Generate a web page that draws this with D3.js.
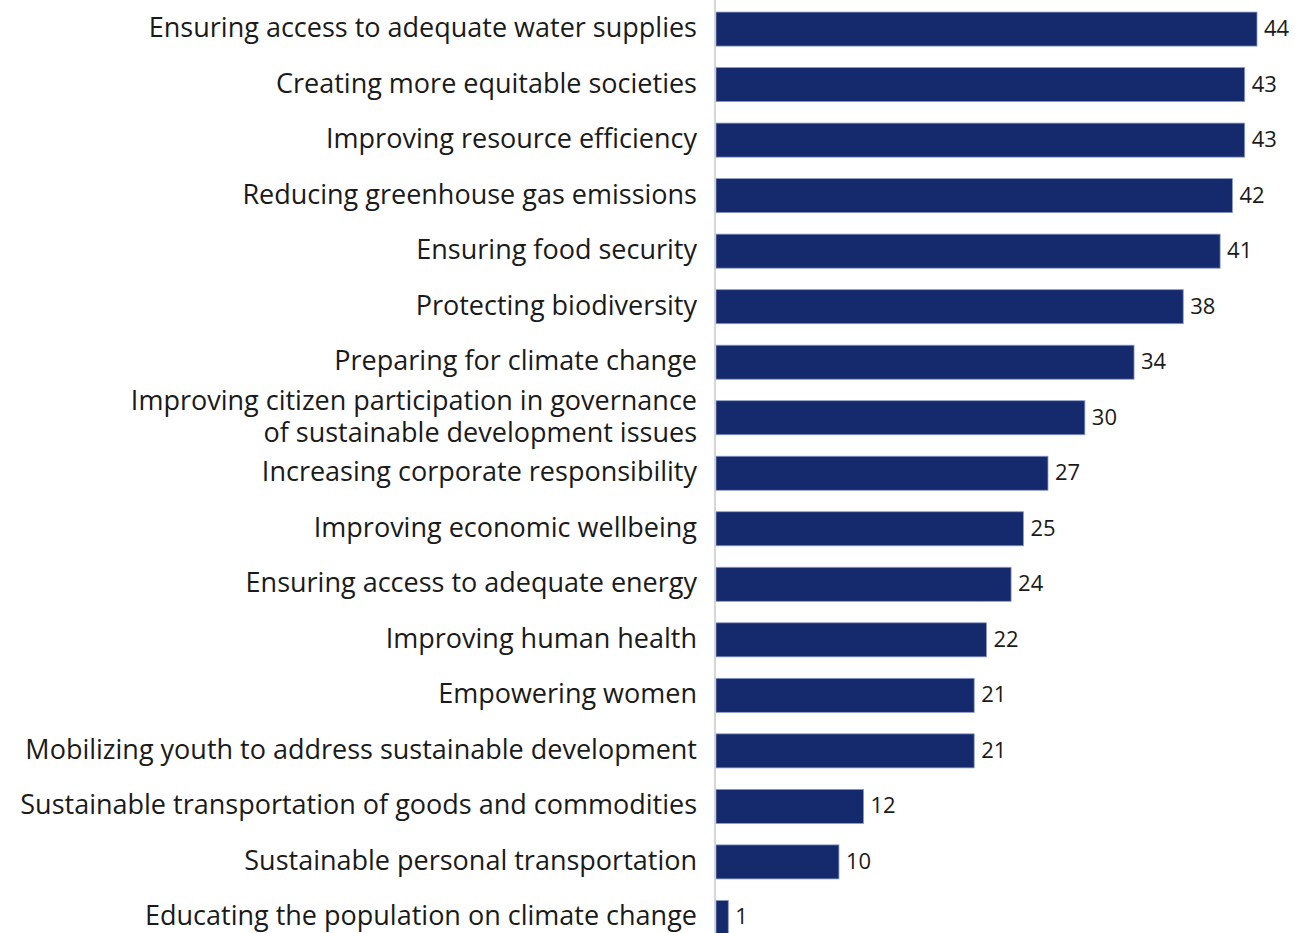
<!DOCTYPE html>
<html>
<head>
<meta charset="utf-8">
<script src="https://cdn.jsdelivr.net/npm/d3@7"></script>
<style>
  html, body { margin: 0; padding: 0; background: #fff; }
  svg { display: block; }
</style>
</head>
<body>
<svg id="chart" width="1295" height="933"></svg>
<script>
const categories = [
  "Ensuring access to adequate water supplies",
  "Creating more equitable societies",
  "Improving resource efficiency",
  "Reducing greenhouse gas emissions",
  "Ensuring food security",
  "Protecting biodiversity",
  "Preparing for climate change",
  "Improving citizen participation in governance|of sustainable development issues",
  "Increasing corporate responsibility",
  "Improving economic wellbeing",
  "Ensuring access to adequate energy",
  "Improving human health",
  "Empowering women",
  "Mobilizing youth to address sustainable development",
  "Sustainable transportation of goods and commodities",
  "Sustainable personal transportation",
  "Educating the population on climate change"
];
const values = [44, 43, 43, 42, 41, 38, 34, 30, 27, 25, 24, 22, 21, 21, 12, 10, 1];

const W = 1295, H = 933;
const x0 = 716;
const svg = d3.select("#chart");
const fontFamily = "'Open Sans', 'Noto Sans', sans-serif";

const x = d3.scaleLinear().domain([0, 44]).range([x0, 1257]);
const y = d3.scaleBand()
  .domain(d3.range(categories.length))
  .range([1.5, 1.5 + 55.5 * categories.length])
  .paddingInner(0.387)
  .paddingOuter(0.19);

// bars
svg.append("g").selectAll("rect")
  .data(values)
  .join("rect")
  .attr("x", x(0))
  .attr("y", (d, i) => y(i))
  .attr("width", d => x(d) - x(0))
  .attr("height", y.bandwidth())
  .attr("fill", "#15296d")
  .attr("stroke", "#8a9ac8")
  .attr("stroke-width", 0.8);

// axis line
svg.append("line")
  .attr("x1", 715).attr("x2", 715)
  .attr("y1", 0).attr("y2", H)
  .attr("stroke", "#c8c8cc")
  .attr("stroke-width", 1.5);

// category labels
const labelG = svg.append("g")
  .attr("font-family", fontFamily)
  .attr("fill", "#1a1a1a")
  .attr("text-anchor", "end");

const labels = labelG.selectAll("text")
  .data(categories)
  .join("text")
  .attr("x", 697)
  .attr("y", (d, i) => y(i) + y.bandwidth() / 2 - 3)
  .attr("dominant-baseline", "central");

labels.each(function(d) {
  const lines = d.split("|");
  const t = d3.select(this);
  lines.forEach((ln, k) => {
    t.append("tspan")
      .attr("x", 697)
      .attr("dy", k === 0 ? (-(lines.length - 1) * 16) : 32)
      .text(ln);
  });
});

// fit font size so longest label spans about 677px
labelG.attr("font-size", 26);
let longest = 0;
labels.selectAll("tspan").each(function() { longest = Math.max(longest, this.getComputedTextLength()); });
const fs = 26 * 677 / longest;
labelG.attr("font-size", fs);

// value labels
svg.append("g").selectAll("text")
  .data(values)
  .join("text")
  .attr("x", d => x(d) + 7)
  .attr("y", (d, i) => y(i) + y.bandwidth() / 2 - 2)
  .attr("dominant-baseline", "central")
  .attr("font-family", fontFamily)
  .attr("font-size", 22)
  .attr("fill", "#1a1a1a")
  .text(d => d);
</script>
</body>
</html>
